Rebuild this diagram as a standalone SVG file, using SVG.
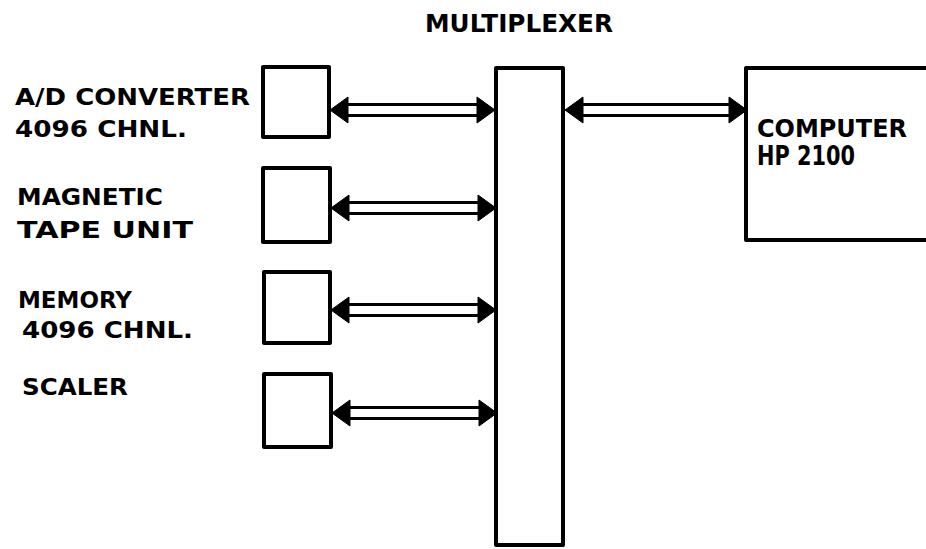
<svg xmlns="http://www.w3.org/2000/svg" width="926" height="549" viewBox="0 0 926 549">
<style>
.box{fill:#fff;stroke:#000;stroke-width:4;stroke-linejoin:round}
.bus{stroke:#000;stroke-width:3;fill:none}
.head{fill:#000;stroke:#000;stroke-width:1;stroke-linejoin:round}
text{font-family:"DejaVu Sans","Liberation Sans",sans-serif;font-weight:bold;font-size:23px;fill:#000}
</style>
<defs>
<g id="link">
<line class="bus" x1="345" y1="-5.5" x2="480" y2="-5.5"/>
<line class="bus" x1="345" y1="5.5" x2="480" y2="5.5"/>
<polygon class="head" points="330,0 348,-13 348,13"/>
<polygon class="head" points="495,0 477,-13 477,13"/>
</g>
</defs>
<rect width="926" height="549" fill="#fff"/>
<g id="multiplexer">
<rect class="box" x="496" y="68" width="67" height="477"/>
<text x="425" y="32" style="font-size:25px" textLength="188" lengthAdjust="spacingAndGlyphs">MULTIPLEXER</text>
</g>
<g id="adc">
<rect class="box" x="263" y="67" width="66" height="70"/>
<text x="15" y="105" textLength="235" lengthAdjust="spacingAndGlyphs">A/D CONVERTER</text>
<text x="15" y="137" textLength="172" lengthAdjust="spacingAndGlyphs">4096 CHNL.</text>
</g>
<g id="tape">
<rect class="box" x="263" y="168" width="67" height="74"/>
<text x="17" y="205" textLength="146" lengthAdjust="spacingAndGlyphs">MAGNETIC</text>
<text x="17" y="238" textLength="176" lengthAdjust="spacingAndGlyphs">TAPE UNIT</text>
</g>
<g id="memory">
<rect class="box" x="264" y="272" width="66" height="71"/>
<text x="18" y="308" textLength="114" lengthAdjust="spacingAndGlyphs">MEMORY</text>
<text x="22" y="338" textLength="171" lengthAdjust="spacingAndGlyphs">4096 CHNL.</text>
</g>
<g id="scaler">
<rect class="box" x="264" y="374" width="67" height="73"/>
<text x="22" y="395" textLength="106" lengthAdjust="spacingAndGlyphs">SCALER</text>
</g>
<g id="computer">
<rect class="box" x="746" y="68" width="190" height="172"/>
<text x="757" y="137" style="font-size:25px" textLength="150" lengthAdjust="spacingAndGlyphs">COMPUTER</text>
<text x="757" y="165" style="font-size:26px" textLength="98" lengthAdjust="spacingAndGlyphs">HP 2100</text>
</g>
<g id="connectors">
<use href="#link" transform="translate(0,110)"/>
<use href="#link" transform="translate(1,208)"/>
<use href="#link" transform="translate(1,310)"/>
<use href="#link" transform="translate(2,413)"/>
<line class="bus" x1="580" y1="104.5" x2="732" y2="104.5"/>
<line class="bus" x1="580" y1="115.5" x2="732" y2="115.5"/>
<polygon class="head" points="565,110 583,97 583,123"/>
<polygon class="head" points="747,110 729,97 729,123"/>
</g>
</svg>
